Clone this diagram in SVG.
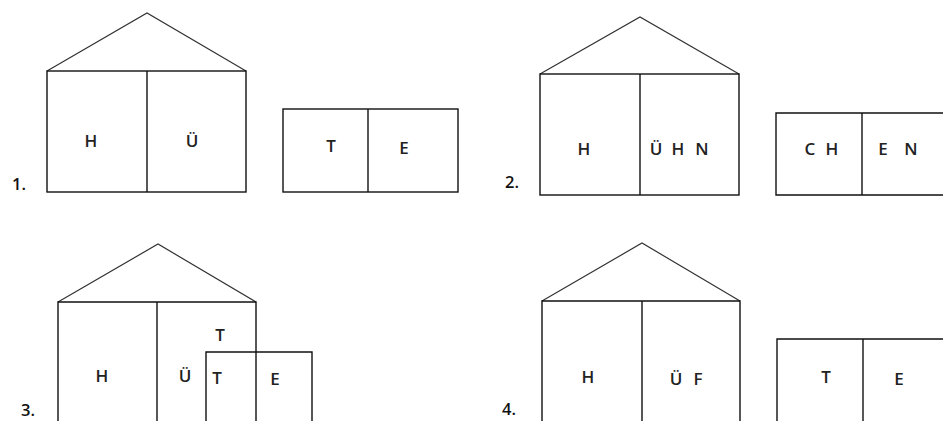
<svg xmlns="http://www.w3.org/2000/svg" width="943" height="421" viewBox="0 0 943 421">
<style>
.w{fill:none;stroke:#111;stroke-width:1.4}
.r{fill:none;stroke:#333;stroke-width:1.2}
text{font-family:"Open Sans","Liberation Sans",sans-serif;font-size:17px;font-weight:600;fill:#222;text-anchor:middle}
.n{font-size:16.5px;fill:#111;text-anchor:start}
</style>
<rect width="943" height="421" fill="#fff"/>
<g id="panel1">
<g id="house1">
<polyline class="r" points="47,71 147,13 246,71"/>
<rect class="w" x="47" y="71" width="199" height="121"/>
<line class="w" x1="147" y1="71" x2="147" y2="192"/>
<text x="91" y="147">H</text>
<text x="192" y="147">Ü</text>
</g>
<g id="box1">
<rect class="w" x="283" y="109" width="175" height="83"/>
<line class="w" x1="368" y1="109" x2="368" y2="192"/>
<text x="331" y="152">T</text>
<text x="404" y="154">E</text>
</g>
<text class="n" x="12" y="190">1.</text>
</g>
<g id="panel2">
<g id="house2">
<polyline class="r" points="540,74 640,17 739,74"/>
<rect class="w" x="540" y="74" width="199" height="121"/>
<line class="w" x1="640" y1="74" x2="640" y2="195"/>
<text x="584" y="155">H</text>
<text x="656" y="155">Ü</text>
<text x="678" y="155">H</text>
<text x="702" y="155">N</text>
</g>
<g id="box2">
<polyline class="w" points="945,113 776,113 776,195 945,195"/>
<line class="w" x1="862" y1="113" x2="862" y2="195"/>
<text x="810" y="155">C</text>
<text x="832" y="155">H</text>
<text x="883" y="155">E</text>
<text x="911" y="155">N</text>
</g>
<text class="n" x="505" y="188">2.</text>
</g>
<g id="panel3">
<g id="house3">
<polyline class="r" points="58,302 158,244 256,302"/>
<polyline class="w" points="58,425 58,302 256,302 256,425"/>
<line class="w" x1="157" y1="302" x2="157" y2="425"/>
<text x="102" y="382">H</text>
<text x="185" y="382">Ü</text>
<text x="220" y="341">T</text>
</g>
<g id="box3">
<polyline class="w" points="206,425 206,352 312,352 312,425"/>
<text x="217" y="384">T</text>
<text x="275" y="385">E</text>
</g>
<text class="n" x="21" y="416">3.</text>
</g>
<g id="panel4">
<g id="house4">
<polyline class="r" points="542,301 642,243 740,301"/>
<polyline class="w" points="542,425 542,301 740,301 740,425"/>
<line class="w" x1="642" y1="301" x2="642" y2="425"/>
<text x="588" y="383">H</text>
<text x="676" y="385">Ü</text>
<text x="698" y="385">F</text>
</g>
<g id="box4">
<polyline class="w" points="777,425 777,339 945,339"/>
<line class="w" x1="863" y1="339" x2="863" y2="425"/>
<text x="826" y="383">T</text>
<text x="899" y="385">E</text>
</g>
<text class="n" x="502" y="415">4.</text>
</g>
</svg>
